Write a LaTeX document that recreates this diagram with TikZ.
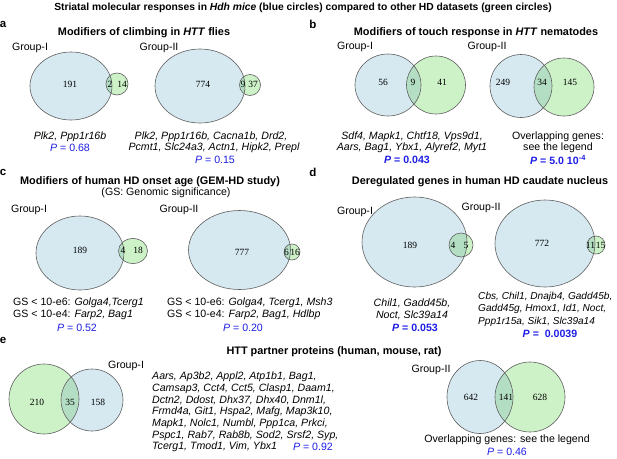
\documentclass[tikz,border=0pt]{standalone}
\usepackage{fontspec}
\setmainfont{Liberation Sans}
\newfontfamily\numfont{Liberation Serif}
\definecolor{bfill}{RGB}{214,233,241}
\definecolor{gfill}{RGB}{206,242,200}
\definecolor{ofill}{RGB}{180,222,196}
\definecolor{edgec}{RGB}{95,95,95}
\definecolor{pblue}{RGB}{30,30,230}
\tikzset{
  txt/.style={inner sep=0pt, font=\fontsize{10.6}{12}\selectfont},
  ttl/.style={inner sep=0pt, font=\fontsize{10.9}{13}\selectfont\bfseries},
  num/.style={inner sep=0pt, font=\numfont\fontsize{9.5}{11}\selectfont},
  lett/.style={inner sep=0pt, font=\fontsize{11.5}{13}\selectfont\bfseries},
  pval/.style={txt, text=pblue},
  pbold/.style={inner sep=0pt, text=pblue, font=\fontsize{10.6}{12}\selectfont\bfseries},
  lft/.style={txt, anchor=west},
  lfts/.style={inner sep=0pt, anchor=west, font=\fontsize{10.1}{12}\selectfont},
  circ/.style={draw=edgec, line width=0.6pt},
}
\newcommand\myvenn[8]{%
  \fill[bfill] (#1,#2) ellipse [x radius=#3pt, y radius=#4pt];
  \fill[gfill] (#5,#6) ellipse [x radius=#7pt, y radius=#8pt];
  \begin{scope}
    \clip (#1,#2) ellipse [x radius=#3pt, y radius=#4pt];
    \fill[ofill] (#5,#6) ellipse [x radius=#7pt, y radius=#8pt];
  \end{scope}
  \draw[circ] (#1,#2) ellipse [x radius=#3pt, y radius=#4pt];
  \draw[circ] (#5,#6) ellipse [x radius=#7pt, y radius=#8pt];
}
\begin{document}
\begin{tikzpicture}[x=1pt,y=-1pt]
\useasboundingbox (0,0) rectangle (617,458);
\fill[white] (0,0) rectangle (617,458);

\node[inner sep=0pt, font=\fontsize{10.3}{12}\selectfont\bfseries] (title) at (303,8)
  {Striatal molecular responses in \textit{Hdh mice} (blue circles) compared to other HD datasets (green circles)};

% ---------------- panel a
\node[lett] (la) at (3,24) {a};
\node[ttl] (ta) at (144,33) {Modifiers of climbing in \textit{HTT} flies};
\node[txt] (gaI) at (30,48) {Group-I};
\node[txt] (gaII) at (159,48) {Group-II};
\myvenn{71}{86}{41}{34}{117}{84}{11}{11}
\node[num] (naI1) at (70,84) {191};
\node[num] (naI2) at (110,84) {2};
\node[num] (naI3) at (122,84) {14};
\myvenn{200}{86}{45}{37}{250}{85}{10.5}{10.5}
\node[num] (naII1) at (203,84) {774};
\node[num] (naII2) at (243,84) {9};
\node[num] (naII3) at (253,84) {37};
\node[txt] (aI1) at (70,137) {\itshape Plk2, Ppp1r16b};
\node[pval] (aIp) at (70,148) {\textit{P} = 0.68};
\node[txt] (aII1) at (211,137) {\itshape Plk2, Ppp1r16b, Cacna1b, Drd2,};
\node[txt] (aII2) at (214,148) {\itshape Pcmt1, Slc24a3, Actn1, Hipk2, Prepl};
\node[pval] (aIIp) at (215,160) {\textit{P} = 0.15};

% ---------------- panel b
\node[lett] (lb) at (313,24) {b};
\node[ttl] (tb) at (476,33) {Modifiers of touch response in \textit{HTT} nematodes};
\node[txt] (gbI) at (355,47) {Group-I};
\node[txt] (gbII) at (487,47) {Group-II};
\myvenn{388}{85}{33}{31}{436}{85}{29.5}{29}
\node[num] (nbI1) at (383,82) {56};
\node[num] (nbI2) at (413,82) {9};
\node[num] (nbI3) at (442,82) {41};
\myvenn{521}{86}{31}{31.5}{564}{87}{30}{29}
\node[num] (nbII1) at (503,82) {249};
\node[num] (nbII2) at (542,82) {34};
\node[num] (nbII3) at (570,82) {145};
\node[txt] (bI1) at (412,137) {\itshape Sdf4, Mapk1, Chtf18, Vps9d1,};
\node[txt] (bI2) at (412,148) {\itshape Aars, Bag1, Ybx1, Alyref2, Myt1};
\node[pbold] (bIp) at (407,160) {\textit{P} = 0.043};
\node[txt] (bII1) at (558,137) {Overlapping genes:};
\node[txt] (bII2) at (558,148) {see the legend};
\node[pbold] (bIIp) at (558,160) {\textit{P} = 5.0 10\textsuperscript{-4}};

% ---------------- panel c
\node[lett] (lc) at (3,172) {c};
\node[ttl] (tc) at (150,182) {Modifiers of human HD onset age (GEM-HD study)};
\node[txt] (tc2) at (166,193) {(GS: Genomic significance)};
\node[txt] (gcI) at (29,210) {Group-I};
\node[txt] (gcII) at (179,210) {Group-II};
\myvenn{80}{253}{44}{37}{133}{251}{14.5}{12.5}
\node[num] (ncI1) at (80,250) {189};
\node[num] (ncI2) at (123,250) {4};
\node[num] (ncI3) at (138,250) {18};
\myvenn{239.5}{250}{51}{39.5}{292}{252}{8}{8}
\node[num] (ncII1) at (242,252) {777};
\node[num] (ncII2) at (286.5,252) {6};
\node[num] (ncII3) at (295,252) {16};
\node[lft] (cI1) at (13,303) {GS < 10-e6: \textit{Golga4,Tcerg1}};
\node[lft] (cI2) at (13,315) {GS < 10-e4: \textit{Farp2, Bag1}};
\node[pval] (cIp) at (77,328) {\textit{P} = 0.52};
\node[lft] (cII1) at (167,303) {GS < 10-e6: \textit{Golga4, Tcerg1, Msh3}};
\node[lft] (cII2) at (167,315) {GS < 10-e4: \textit{Farp2, Bag1, Hdlbp}};
\node[pval] (cIIp) at (243,328) {\textit{P} = 0.20};

% ---------------- panel d
\node[lett] (ld) at (313,172) {d};
\node[ttl] (td) at (480,182) {Deregulated genes in human HD caudate nucleus};
\node[txt] (gdI) at (355,212) {Group-I};
\node[txt] (gdII) at (481,208) {Group-II};
\myvenn{414.5}{242}{52.5}{45}{461}{245}{12}{12}
\node[num] (ndI1) at (410,245) {189};
\node[num] (ndI2) at (453,245) {4};
\node[num] (ndI3) at (466,245) {5};
\myvenn{545}{243.5}{50}{43.5}{596}{245}{9}{9}
\node[num] (ndII1) at (542,243) {772};
\node[num] (ndII2) at (590.5,245) {11};
\node[num] (ndII3) at (600.5,245) {15};
\node[txt] (dI1) at (412,303) {\itshape Chil1, Gadd45b,};
\node[txt] (dI2) at (412,315) {\itshape Noct, Slc39a14};
\node[pbold] (dIp) at (415,328) {\textit{P} = 0.053};
\node[lfts] (dII1) at (478,297) {\itshape Cbs, Chil1, Dnajb4, Gadd45b,};
\node[lfts] (dII2) at (478,309) {\itshape Gadd45g, Hmox1, Id1, Noct,};
\node[lfts] (dII3) at (478,322) {\itshape Ppp1r15a, Sik1, Slc39a14};
\node[pbold] (dIIp) at (550,334) {\textit{P} =~ 0.0039};

% ---------------- panel e
\node[lett] (le) at (3,340) {e};
\node[ttl] (te) at (334,352) {HTT partner proteins (human, mouse, rat)};
\node[txt] (geI) at (126,366) {Group-I};
\node[txt] (geII) at (431,370) {Group-II};
% left: green circle with blue circle on the right
\fill[gfill] (44,399) circle [radius=35pt];
\fill[bfill] (92,400) circle [radius=31pt];
\begin{scope}
  \clip (44,399) circle [radius=35pt];
  \fill[ofill] (92,400) circle [radius=31pt];
\end{scope}
\draw[circ] (44,399) circle [radius=35pt];
\draw[circ] (92,400) circle [radius=31pt];
\node[num] (neI1) at (37,402) {210};
\node[num] (neI2) at (70,402) {35};
\node[num] (neI3) at (98,402) {158};
\node[lft] (e1) at (152,377) {\itshape Aars, Ap3b2, Appl2, Atp1b1, Bag1,};
\node[lft] (e2) at (152,388.7) {\itshape Camsap3, Cct4, Cct5, Clasp1, Daam1,};
\node[lft] (e3) at (152,400.4) {\itshape Dctn2, Ddost, Dhx37, Dhx40, Dnm1l,};
\node[lft] (e4) at (152,412.1) {\itshape Frmd4a, Git1, Hspa2, Mafg, Map3k10,};
\node[lft] (e5) at (152,423.8) {\itshape Mapk1, Nolc1, Numbl, Ppp1ca, Prkci,};
\node[lft] (e6) at (152,435.5) {\itshape Pspc1, Rab7, Rab8b, Sod2, Srsf2, Syp,};
\node[lft] (e7) at (152,447.2) {\itshape Tcerg1, Tmod1, Vim, Ybx1};
\node[pval, anchor=east] (ep) at (333,447.2) {\textit{P} = 0.92};
\myvenn{480}{397}{33}{36.5}{530}{397}{35}{35}
\node[num] (neII1) at (471,397) {642};
\node[num] (neII2) at (506,397) {141};
\node[num] (neII3) at (540,397) {628};
\node[txt] (eII1) at (507,440) {Overlapping genes: see the legend};
\node[pval] (eIIp) at (507,452) {\textit{P} = 0.46};
\end{tikzpicture}
\end{document}
